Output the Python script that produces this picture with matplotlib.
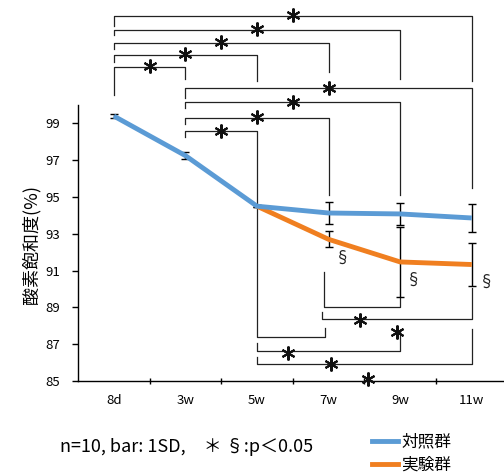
import matplotlib
matplotlib.use("Agg")
import matplotlib.pyplot as plt
from matplotlib.lines import Line2D

plt.rcParams['font.family'] = ['Noto Sans CJK JP', 'DejaVu Sans']

# データ
weeks = ['8d', '3w', '5w', '7w', '9w', '11w']
control_mean = [99.4, 97.25, 94.5, 94.13, 94.08, 93.86]
control_sd = [0.1, 0.2, 0.05, 0.58, 0.6, 0.77]
exp_weeks = ['5w', '7w', '9w', '11w']
exp_mean = [94.5, 92.7, 91.47, 91.33]
exp_sd = [0.05, 0.43, 1.9, 1.17]
series_names = ['対照群', '実験群']

# 有意差のブラケット (左, 右, 高さ, 左脚の端, 右脚の端)
top_brackets = [
    (0, 5, 104.86, 104.32, 101.33),
    (0, 4, 104.10, 103.83, 101.39),
    (0, 3, 103.39, 103.07, 101.82),
    (0, 2, 102.74, 102.36, 101.28),
    (0, 1, 102.09, 100.52, 101.39),
    (1, 5, 100.90, 100.36, 95.47),
    (1, 4, 100.14, 99.81, 95.09),
    (1, 3, 99.32, 98.99, 95.09),
    (1, 2, 98.56, 98.24, 94.55),
]
bottom_brackets = [
    (2.93, 4, 89.03, 90.93, 89.56),
    (2.91, 5, 88.36, 88.76, 90.05),
    (2, 2.95, 87.40, 94.5, 87.88),
    (2, 4, 86.64, 87.06, 87.67),
    (2, 5, 85.91, 86.32, 87.82),
]
bottom_stars = [(3.44, 88.31), (3.95, 87.66), (2.44, 86.52), (3.04, 85.92), (3.55, 85.11)]
section_marks = [(3.20, 91.67), (4.19, 90.48), (5.20, 90.37)]

blue = '#5B9BD5'
orange = '#F07F20'

fig = plt.figure(figsize=(5.04, 4.75), dpi=100)
ax = fig.add_axes([78 / 504, 94 / 475, 426 / 504, 276 / 475])

x_ctrl = [weeks.index(w) for w in weeks]
x_exp = [weeks.index(w) for w in exp_weeks]

ax.errorbar(x_ctrl, control_mean, yerr=control_sd, fmt='none', ecolor='black',
            elinewidth=1, capsize=3, capthick=1, zorder=2)
ax.errorbar(x_exp, exp_mean, yerr=exp_sd, fmt='none', ecolor='black',
            elinewidth=1, capsize=3, capthick=1, zorder=2)
ax.plot(x_ctrl, control_mean, color=blue, lw=3.5, zorder=4, solid_capstyle='butt')
ax.plot(x_exp, exp_mean, color=orange, lw=3.5, zorder=3, solid_capstyle='butt')

bk = dict(color='#222222', lw=0.9, clip_on=False, zorder=1)
star = dict(marker=(6, 2, 0), ms=10, mew=1.5, color='#111111', clip_on=False, zorder=5)
for i, j, lev, lb, rb in top_brackets:
    ax.plot([i, i, j, j], [lb, lev, lev, rb], **bk)
    ax.plot((i + j) / 2, lev + 0.05, **star)
for i, j, lev, lt, rt in bottom_brackets:
    ax.plot([i, i, j, j], [lt, lev, lev, rt], **bk)
for sx, sy in bottom_stars:
    ax.plot(sx, sy, **star)
for sx, sy in section_marks:
    ax.text(sx, sy, '§', fontsize=11, ha='center', va='center', color='#222222')

ax.set_xlim(-0.5, 5.45)
ax.set_ylim(85, 100)
ax.set_yticks(range(85, 100, 2))
ax.set_xticks(range(len(weeks)))
ax.set_xticklabels(weeks)
ax.set_xticks([k + 0.5 for k in range(5)], minor=True)
ax.tick_params(axis='x', which='major', length=0, labelsize=9.5, pad=9)
ax.tick_params(axis='x', which='minor', direction='inout', length=5, width=1)
ax.tick_params(axis='y', direction='out', length=4, width=1, labelsize=9.5, pad=9)

for s in ['top', 'right']:
    ax.spines[s].set_visible(False)
ax.spines['left'].set_linewidth(1)
ax.spines['bottom'].set_linewidth(1)

# 縦軸ラベル
fig.text(31 / 504, 1 - 245 / 475, '酸素飽和度(%)', fontsize=13, rotation=90,
         ha='center', va='center')

fig.text(60 / 504, 1 - 447 / 475, 'n=10, bar: 1SD,　＊ §:p＜0.05', fontsize=13,
         ha='left', va='center')

# 凡例 (手書き)
for name, col, py in zip(series_names, [blue, orange], [442, 465]):
    yy = 1 - py / 475
    fig.add_artist(Line2D([372 / 504, 398 / 504], [yy + 0.002, yy + 0.002], color=col, lw=3.5))
    fig.text(401 / 504, yy, name, fontsize=12, ha='left', va='center')

fig.savefig('out.png', dpi=100)
